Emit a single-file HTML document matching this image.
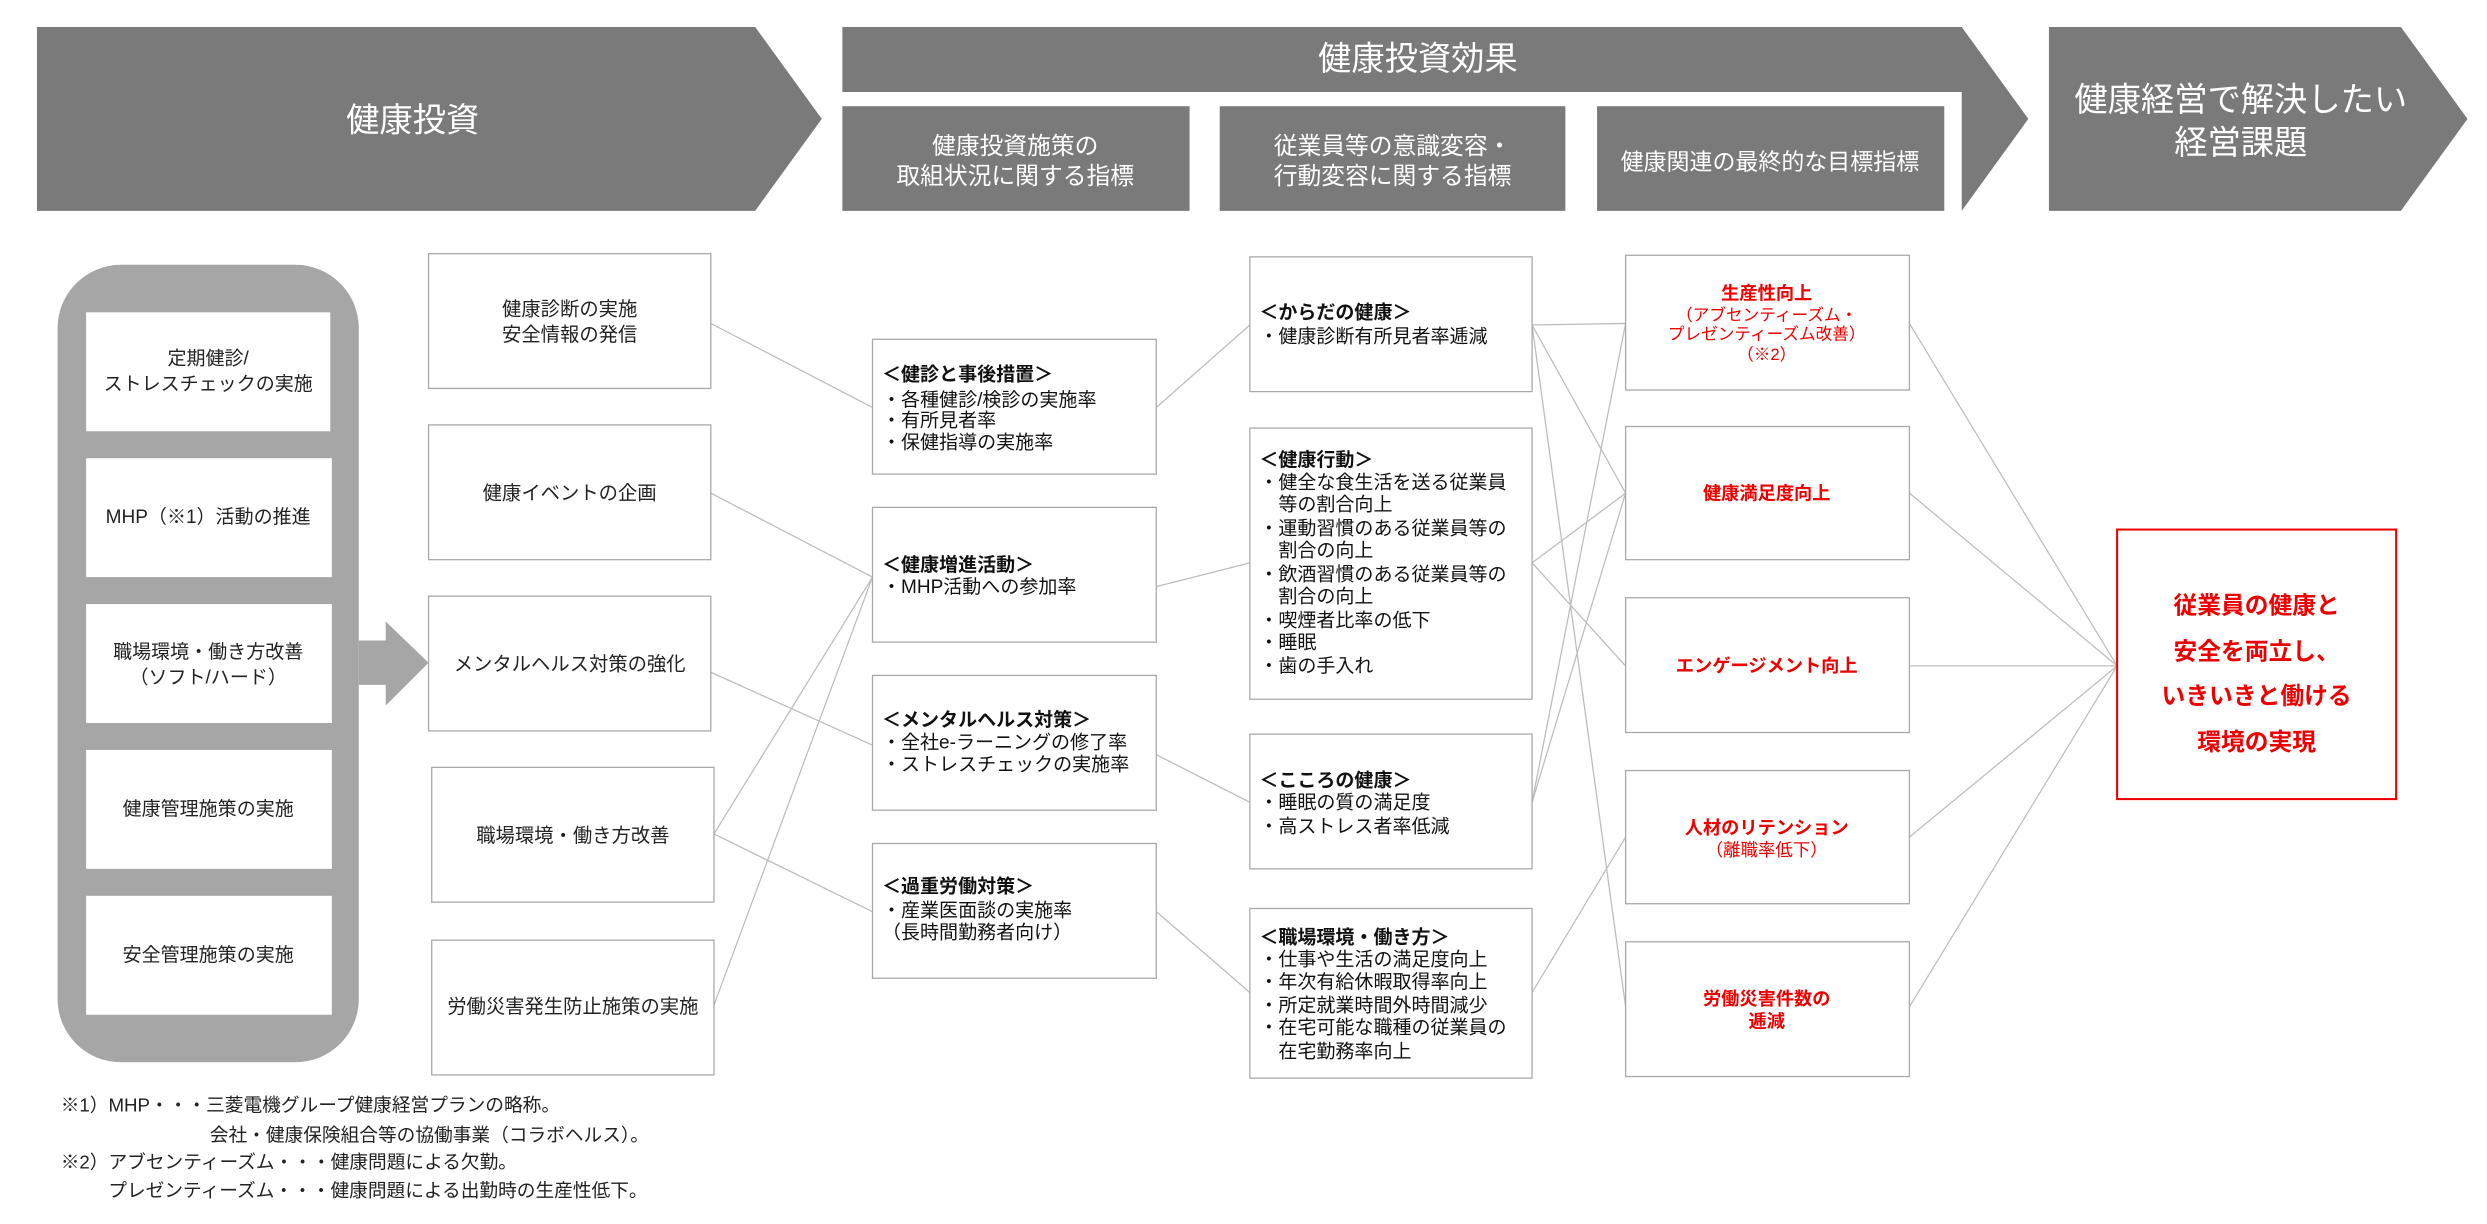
<!DOCTYPE html>
<html><head><meta charset="utf-8"><style>
html,body{margin:0;padding:0;background:#fff;width:2487px;height:1224px;overflow:hidden}
text{font-family:"Liberation Sans","Noto Sans CJK JP",sans-serif}
</style></head><body>
<svg width="2487" height="1224" viewBox="0 0 1568 772" xmlns="http://www.w3.org/2000/svg">
<g fill="#7a7a7a">
<polygon points="23,17 476,17 518,75 476,133 23,133"/>
<polygon points="531,17 1237,17 1279,75 1237,133 1237,58 531,58"/>
<rect x="531" y="67" width="219" height="66"/>
<rect x="769" y="67" width="218" height="66"/>
<rect x="1007" y="67" width="219" height="66"/>
<polygon points="1292,17 1514,17 1556,75 1514,133 1292,133"/>
</g>
<g fill="#fff" text-anchor="middle">
<text x="260" y="83" font-size="21">健康投資</text>
<text x="894" y="44" font-size="21">健康投資効果</text>
<text x="640" y="97" font-size="15">健康投資施策の</text>
<text x="640" y="116" font-size="15">取組状況に関する指標</text>
<text x="878" y="97" font-size="15">従業員等の意識変容・</text>
<text x="878" y="116" font-size="15">行動変容に関する指標</text>
<text x="1116" y="107" font-size="14.5">健康関連の最終的な目標指標</text>
<text x="1413" y="70" font-size="21">健康経営で解決したい</text>
<text x="1413" y="97" font-size="21">経営課題</text>
</g>
<rect x="36" y="167" width="190" height="503" rx="40" fill="#a6a6a6"/>
<g fill="#fff">
<rect x="54" y="197" width="154" height="75"/>
<rect x="54" y="289" width="155" height="75"/>
<rect x="54" y="381" width="155" height="75"/>
<rect x="54" y="473" width="155" height="75"/>
<rect x="54" y="565" width="155" height="75"/>
</g>
<polygon points="226,404 243,404 243,392 270,418 243,445 243,432 226,432" fill="#a6a6a6"/>
<g font-size="12" fill="#222" text-anchor="middle">
<text x="131" y="230">定期健診/</text><text x="131" y="246">ストレスチェックの実施</text>
<text x="131" y="330">MHP（※1）活動の推進</text>
<text x="131" y="415">職場環境・働き方改善</text><text x="131" y="431">（ソフト/ハード）</text>
<text x="131" y="514">健康管理施策の実施</text>
<text x="131" y="606">安全管理施策の実施</text>
</g>
<g stroke="#bdbdbd" stroke-width="0.8" fill="none">
<line x1="448" y1="204" x2="550" y2="257"/>
<line x1="448" y1="311" x2="550" y2="364"/>
<line x1="448" y1="424" x2="550" y2="470"/>
<line x1="450" y1="526" x2="550" y2="364"/>
<line x1="450" y1="526" x2="550" y2="575"/>
<line x1="450" y1="634" x2="550" y2="364"/>
<line x1="729" y1="257" x2="788" y2="205"/>
<line x1="729" y1="370" x2="788" y2="355"/>
<line x1="729" y1="476" x2="788" y2="506"/>
<line x1="729" y1="575" x2="788" y2="626"/>
<line x1="966" y1="205" x2="1025" y2="204"/>
<line x1="966" y1="205" x2="1025" y2="311"/>
<line x1="966" y1="205" x2="1025" y2="635"/>
<line x1="966" y1="355" x2="1025" y2="311"/>
<line x1="966" y1="355" x2="1025" y2="420"/>
<line x1="966" y1="506" x2="1025" y2="204"/>
<line x1="966" y1="506" x2="1025" y2="311"/>
<line x1="966" y1="626" x2="1025" y2="528"/>
<line x1="1204" y1="204" x2="1335" y2="420"/>
<line x1="1204" y1="311" x2="1335" y2="420"/>
<line x1="1204" y1="420" x2="1335" y2="420"/>
<line x1="1204" y1="528" x2="1335" y2="420"/>
<line x1="1204" y1="635" x2="1335" y2="420"/>
</g>
<g fill="#fff" stroke="#a8a8a8" stroke-width="0.8">
<rect x="270" y="160" width="178" height="85"/>
<rect x="270" y="268" width="178" height="85"/>
<rect x="270" y="376" width="178" height="85"/>
<rect x="272" y="484" width="178" height="85"/>
<rect x="272" y="593" width="178" height="85"/>
<rect x="550" y="214" width="179" height="85"/>
<rect x="550" y="320" width="179" height="85"/>
<rect x="550" y="426" width="179" height="85"/>
<rect x="550" y="532" width="179" height="85"/>
<rect x="788" y="162" width="178" height="85"/>
<rect x="788" y="270" width="178" height="171"/>
<rect x="788" y="463" width="178" height="85"/>
<rect x="788" y="573" width="178" height="107"/>
<rect x="1025" y="161" width="179" height="85"/>
<rect x="1025" y="269" width="179" height="84"/>
<rect x="1025" y="377" width="179" height="85"/>
<rect x="1025" y="486" width="179" height="84"/>
<rect x="1025" y="594" width="179" height="85"/>
</g>
<rect x="1335" y="334" width="176" height="170" fill="#fff" stroke="#e00" stroke-width="1.3"/>
<g font-size="12.2" fill="#222" text-anchor="middle">
<text x="359" y="199">健康診断の実施</text><text x="359" y="215">安全情報の発信</text>
<text x="359" y="315">健康イベントの企画</text>
<text x="359" y="423">メンタルヘルス対策の強化</text>
<text x="361" y="531">職場環境・働き方改善</text>
<text x="361" y="639">労働災害発生防止施策の実施</text>
</g>
<g font-size="12" fill="#111">
<text x="556" y="240" font-weight="bold">＜健診と事後措置＞</text>
<text x="556" y="256">・各種健診/検診の実施率</text>
<text x="556" y="269">・有所見者率</text>
<text x="556" y="283">・保健指導の実施率</text>
<text x="556" y="360" font-weight="bold">＜健康増進活動＞</text>
<text x="556" y="374">・MHP活動への参加率</text>
<text x="556" y="458" font-weight="bold">＜メンタルヘルス対策＞</text>
<text x="556" y="472">・全社e-ラーニングの修了率</text>
<text x="556" y="486">・ストレスチェックの実施率</text>
<text x="556" y="563" font-weight="bold">＜過重労働対策＞</text>
<text x="556" y="578">・産業医面談の実施率</text>
<text x="556" y="592">（長時間勤務者向け）</text>
<text x="794" y="201" font-weight="bold">＜からだの健康＞</text>
<text x="794" y="216">・健康診断有所見者率逓減</text>
<text x="794" y="294" font-weight="bold">＜健康行動＞</text>
<text x="794" y="308">・健全な食生活を送る従業員</text>
<text x="794" y="322">　等の割合向上</text>
<text x="794" y="337">・運動習慣のある従業員等の</text>
<text x="794" y="351">　割合の向上</text>
<text x="794" y="366">・飲酒習慣のある従業員等の</text>
<text x="794" y="380">　割合の向上</text>
<text x="794" y="395">・喫煙者比率の低下</text>
<text x="794" y="409">・睡眠</text>
<text x="794" y="424">・歯の手入れ</text>
<text x="794" y="496" font-weight="bold">＜こころの健康＞</text>
<text x="794" y="510">・睡眠の質の満足度</text>
<text x="794" y="525">・高ストレス者率低減</text>
<text x="794" y="595" font-weight="bold">＜職場環境・働き方＞</text>
<text x="794" y="609">・仕事や生活の満足度向上</text>
<text x="794" y="623">・年次有給休暇取得率向上</text>
<text x="794" y="638">・所定就業時間外時間減少</text>
<text x="794" y="652">・在宅可能な職種の従業員の</text>
<text x="794" y="667">　在宅勤務率向上</text>
</g>
<g fill="#e00" text-anchor="middle">
<text x="1114" y="189" font-size="11.5" font-weight="bold">生産性向上</text>
<text x="1114" y="202" font-size="10.5">（アブセンティーズム・</text>
<text x="1114" y="214" font-size="10.5">プレゼンティーズム改善）</text>
<text x="1114" y="227" font-size="10.5">（※2）</text>
<text x="1114" y="315" font-size="11.5" font-weight="bold">健康満足度向上</text>
<text x="1114" y="424" font-size="11.5" font-weight="bold">エンゲージメント向上</text>
<text x="1114" y="526" font-size="11.5" font-weight="bold">人材のリテンション</text>
<text x="1114" y="540" font-size="11">（離職率低下）</text>
<text x="1114" y="634" font-size="11.5" font-weight="bold">労働災害件数の</text>
<text x="1114" y="648" font-size="11.5" font-weight="bold">逓減</text>
<text x="1423" y="387" font-size="15" font-weight="bold">従業員の健康と</text>
<text x="1423" y="416" font-size="15" font-weight="bold">安全を両立し、</text>
<text x="1423" y="444" font-size="15" font-weight="bold">いきいきと働ける</text>
<text x="1423" y="473" font-size="15" font-weight="bold">環境の実現</text>
</g>
<g font-size="11.8" fill="#222">
<text x="38" y="701">※1）MHP・・・三菱電機グループ健康経営プランの略称。</text>
<text x="132" y="720">会社・健康保険組合等の協働事業（コラボヘルス）。</text>
<text x="38" y="737">※2）アブセンティーズム・・・健康問題による欠勤。</text>
<text x="68" y="755">プレゼンティーズム・・・健康問題による出勤時の生産性低下。</text>
</g>
</svg>
</body></html>
